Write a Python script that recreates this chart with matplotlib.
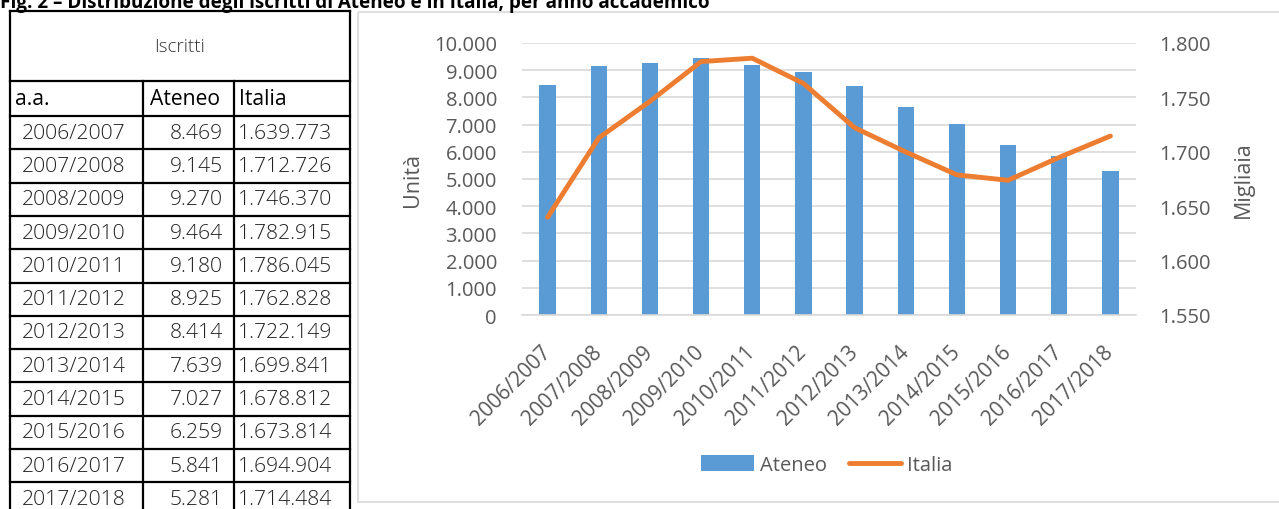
"""
Iscritti di Ateneo e in Italia per anno accademico: tabella + grafico a due assi.
"""

import matplotlib
matplotlib.use("Agg")
import matplotlib.pyplot as plt
from matplotlib.ticker import FuncFormatter, MultipleLocator

plt.rcParams["font.family"] = ["Open Sans", "DejaVu Sans"]

# dati
years = ["2006/2007", "2007/2008", "2008/2009", "2009/2010", "2010/2011", "2011/2012",
         "2012/2013", "2013/2014", "2014/2015", "2015/2016", "2016/2017", "2017/2018"]
ateneo = [8469, 9145, 9270, 9464, 9180, 8925, 8414, 7639, 7027, 6259, 5841, 5281]
italia = [1639773, 1712726, 1746370, 1782915, 1786045, 1762828,
          1722149, 1699841, 1678812, 1673814, 1694904, 1714484]

title = "Fig. 2 – Distribuzione degli iscritti di Ateneo e in Italia, per anno accademico"

BLUE = "#5B9BD5"
ORANGE = "#ED7D31"
GREY_TXT = "#595959"
GRID = "#D9D9D9"

W, H = 1279, 510


def it_fmt(v):
    return f"{int(round(v)):,}".replace(",", ".")


fig = plt.figure(figsize=(W / 100, H / 100), dpi=100)

# overlay in pixel coordinates for table, frame, title
ov = fig.add_axes([0, 0, 1, 1])
ov.set_xlim(0, W)
ov.set_ylim(H, 0)
ov.axis("off")

ov.text(0, 8, title, fontsize=13.6, fontweight="bold", va="baseline", ha="left")

# chart frame
ov.add_patch(plt.Rectangle((358, 13), 940, 490, fill=False, ec="#D9D9D9", lw=1.2))

# table
xs = [10, 143, 234, 350]
top, head_bot, row0 = 12, 82, 117
row_h = 33.3
rows_y = [row0 + i * row_h for i in range(len(years) + 1)]
lw = 1.6
for x in (xs[0], xs[3]):
    ov.plot([x, x], [top, H + 5], color="black", lw=lw)
for x in (xs[1], xs[2]):
    ov.plot([x, x], [head_bot, H + 5], color="black", lw=lw)
for y in [top, head_bot] + rows_y:
    ov.plot([xs[0], xs[3]], [y, y], color="black", lw=lw)

FS = 15.2
ov.text((xs[0] + xs[3]) / 2, (top + head_bot) / 2, "Iscritti", fontsize=13.5,
        color="#333333", fontweight="light", ha="center", va="center")
hy = (head_bot + row0) / 2
ov.text(xs[0] + 5, hy, "a.a.", fontsize=FS, ha="left", va="center")
ov.text(xs[1] + 7, hy, "Ateneo", fontsize=FS, ha="left", va="center")
ov.text(xs[2] + 5, hy, "Italia", fontsize=FS, ha="left", va="center")
for i, yr in enumerate(years):
    cy = rows_y[i] + row_h / 2
    ov.text(xs[0] + 12, cy, yr, fontsize=FS, color="#222222", fontweight="light",
            ha="left", va="center")
    ov.text(xs[2] - 11, cy, it_fmt(ateneo[i]), fontsize=FS, color="#222222",
            fontweight="light", ha="right", va="center")
    ov.text(xs[2] + 4, cy, it_fmt(italia[i]), fontsize=FS, color="#222222",
            fontweight="light", ha="left", va="center")

# chart
ax = fig.add_axes([522 / W, 1 - 316 / H, (1136 - 522) / W, (316 - 44) / H])
ax2 = ax.twinx()
x = list(range(len(years)))

bars = ax.bar(x, ateneo, width=0.32, color=BLUE, label="Ateneo", zorder=2)
line, = ax2.plot(x, [v / 1000 for v in italia], color=ORANGE, lw=3.5,
                 solid_capstyle="round", solid_joinstyle="round", label="Italia")

ax.set_xlim(-0.5, len(years) - 0.5)
ax.set_ylim(0, 10000)
ax.yaxis.set_major_locator(MultipleLocator(1000))
ax2.set_ylim(1550, 1800)
ax2.yaxis.set_major_locator(MultipleLocator(50))
ax.yaxis.set_major_formatter(FuncFormatter(lambda v, p: it_fmt(v)))
ax2.yaxis.set_major_formatter(FuncFormatter(lambda v, p: it_fmt(v)))

ax.grid(axis="y", color=GRID, lw=1.2, zorder=0)
ax.set_axisbelow(True)
for a in (ax, ax2):
    for s in a.spines.values():
        s.set_visible(False)
ax.spines["bottom"].set_visible(True)
ax.spines["bottom"].set_color(GRID)
ax.spines["bottom"].set_linewidth(1.2)

ax.tick_params(axis="y", length=0, labelsize=14.5, labelcolor=GREY_TXT, pad=18)
ax2.tick_params(axis="y", length=0, labelsize=14.5, labelcolor=GREY_TXT, pad=17)
ax.set_xticks(x)
ax.set_xticklabels(years, rotation=45, ha="right", va="center",
                   rotation_mode="anchor", fontsize=15, color=GREY_TXT)
ax.tick_params(axis="x", length=0, pad=24)

ax.set_ylabel("Unità", fontsize=15.5, color=GREY_TXT, labelpad=8)
ax2.set_ylabel("Migliaia", fontsize=15.5, color=GREY_TXT, labelpad=16)

fig.legend([bars, line], ["Ateneo", "Italia"], loc="center",
           bbox_to_anchor=(827 / W, 1 - 466 / H), ncol=2, frameon=False,
           fontsize=14.5, labelcolor=GREY_TXT, handlelength=2.6, handleheight=0.8,
           handletextpad=0.3, columnspacing=1.1)

fig.savefig("out.png", dpi=100)
